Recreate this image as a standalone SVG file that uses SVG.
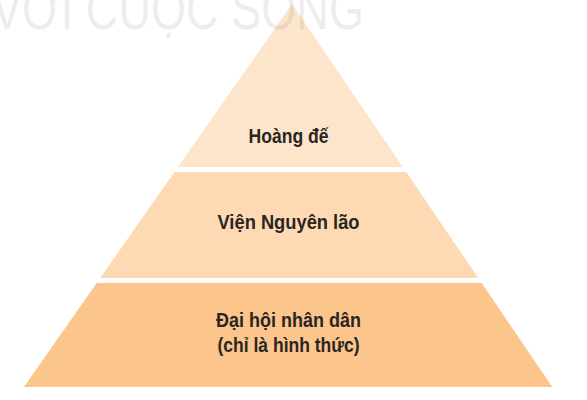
<svg xmlns="http://www.w3.org/2000/svg" width="587" height="400" viewBox="0 0 587 400">
  <style>
    .lbl { font-family: "Liberation Sans", "Noto Sans", Arial, sans-serif; font-weight: bold; font-size: 20.5px; fill: #2a2522; text-anchor: middle; }
    .wm { font-family: "Liberation Sans", Arial, sans-serif; font-size: 58px; fill: #777777; fill-opacity: 0.13; }
  </style>
  <rect x="0" y="0" width="587" height="400" fill="#ffffff"/>
  <g id="level-top">
    <polygon points="292,4 402.8,167 177.9,167" fill="#fde5cb"/>
    <text class="lbl" x="288.5" y="143" textLength="80" lengthAdjust="spacingAndGlyphs">Hoàng đế</text>
  </g>
  <g id="level-middle">
    <polygon points="174.4,172 406.2,172 478.3,278 100.2,278" fill="#fddab3"/>
    <text class="lbl" x="288.5" y="229" textLength="142" lengthAdjust="spacingAndGlyphs">Viện Nguyên lão</text>
  </g>
  <g id="level-bottom">
    <polygon points="96.7,283 481.7,283 552.4,387 23.9,387" fill="#fbc58c"/>
    <text class="lbl" x="288.5" y="327" textLength="145" lengthAdjust="spacingAndGlyphs">Đại hội nhân dân</text>
    <text class="lbl" x="288.5" y="352" textLength="142" lengthAdjust="spacingAndGlyphs">(chỉ là hình thức)</text>
  </g>
  <g id="connectors"/>
  <text class="wm" x="-8" y="29" textLength="372" lengthAdjust="spacingAndGlyphs">VỚI CUỘC SỐNG</text>
</svg>
